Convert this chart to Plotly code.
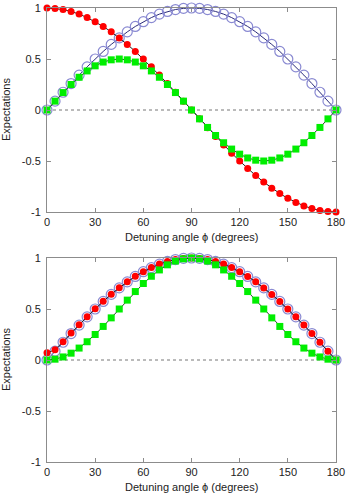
import plotly.graph_objects as go
from plotly.subplots import make_subplots

# Detuning angle (degrees)
angles = [0, 5, 10, 15, 20, 25, 30, 35, 40, 45, 50, 55, 60, 65, 70, 75, 80, 85, 90,
          95, 100, 105, 110, 115, 120, 125, 130, 135, 140, 145, 150, 155, 160, 165, 170, 175, 180]

# Top panel
top_red = [1.0, 0.996, 0.985, 0.966, 0.94, 0.906, 0.866, 0.819, 0.766, 0.707, 0.643, 0.574, 0.5,
           0.423, 0.342, 0.259, 0.174, 0.087, 0.0, -0.087, -0.174, -0.259, -0.342, -0.423, -0.5,
           -0.574, -0.643, -0.707, -0.766, -0.819, -0.866, -0.906, -0.94, -0.966, -0.985, -0.996, -1.0]
top_blue = [0.0, 0.087, 0.174, 0.259, 0.342, 0.423, 0.5, 0.574, 0.643, 0.707, 0.766, 0.819, 0.866,
            0.906, 0.94, 0.966, 0.985, 0.996, 1.0, 0.996, 0.985, 0.966, 0.94, 0.906, 0.866, 0.819,
            0.766, 0.707, 0.643, 0.574, 0.5, 0.423, 0.342, 0.259, 0.174, 0.087, 0.0]
top_green = [0.0, 0.087, 0.171, 0.25, 0.321, 0.383, 0.433, 0.47, 0.492, 0.5, 0.492, 0.47, 0.433,
             0.383, 0.321, 0.25, 0.171, 0.087, 0.0, -0.087, -0.171, -0.25, -0.321, -0.383, -0.433,
             -0.47, -0.492, -0.5, -0.492, -0.47, -0.433, -0.383, -0.321, -0.25, -0.171, -0.087, 0.0]

# Bottom panel
bot_red = [0.07, 0.1, 0.18, 0.265, 0.345, 0.425, 0.502, 0.575, 0.644, 0.708, 0.767, 0.82, 0.866,
           0.906, 0.94, 0.966, 0.985, 0.996, 1.0, 0.996, 0.985, 0.966, 0.94, 0.906, 0.866, 0.819,
           0.766, 0.707, 0.643, 0.574, 0.5, 0.423, 0.342, 0.259, 0.174, 0.087, 0.0]
bot_blue = [0.0, 0.087, 0.174, 0.259, 0.342, 0.423, 0.5, 0.574, 0.643, 0.707, 0.766, 0.819, 0.866,
            0.906, 0.94, 0.966, 0.985, 0.996, 1.0, 0.996, 0.985, 0.966, 0.94, 0.906, 0.866, 0.819,
            0.766, 0.707, 0.643, 0.574, 0.5, 0.423, 0.342, 0.259, 0.174, 0.087, 0.0]
bot_green = [0.0, 0.008, 0.03, 0.067, 0.117, 0.179, 0.25, 0.329, 0.413, 0.5, 0.587, 0.671, 0.75,
             0.821, 0.883, 0.933, 0.97, 0.992, 1.0, 0.992, 0.97, 0.933, 0.883, 0.821, 0.75, 0.671,
             0.587, 0.5, 0.413, 0.329, 0.25, 0.179, 0.117, 0.067, 0.03, 0.008, 0.0]

x_ticks = [0, 30, 60, 90, 120, 150, 180]
y_ticks = [-1, -0.5, 0, 0.5, 1]
y_ticktext = ["-1", "-0.5", "0", "0.5", "1"]
x_title = "Detuning angle \u03d5 (degrees)"
y_title = "Expectations"

W, H = 347, 494
ML, MR, MT, MB = 47, 11, 8, 32
ph = H - MT - MB
top_dom = [1 - 204 / ph, 1]
bot_dom = [0, 204 / ph]

fig = make_subplots(rows=2, cols=1)

BLUE = dict(mode="lines+markers", line=dict(color="#2a2a7a", width=1),
            marker=dict(symbol="circle-open", size=10, color="#8a8ad2", line=dict(width=1.2)))
RED = dict(mode="lines+markers", line=dict(color="#222222", width=1),
           marker=dict(symbol="circle", size=7, color="#ff0000"))
GREEN = dict(mode="lines+markers", line=dict(color="#333333", width=1),
             marker=dict(symbol="square", size=7, color="#00ee00"))

for row, (r, b, g) in enumerate([(top_red, top_blue, top_green), (bot_red, bot_blue, bot_green)], start=1):
    fig.add_trace(go.Scatter(x=angles, y=b, cliponaxis=False, showlegend=False, **BLUE), row=row, col=1)
    fig.add_trace(go.Scatter(x=angles, y=r, cliponaxis=False, showlegend=False, **RED), row=row, col=1)
    fig.add_trace(go.Scatter(x=angles, y=g, cliponaxis=False, showlegend=False, **GREEN), row=row, col=1)

axis_common = dict(showline=True, linecolor="#8c8c8c", linewidth=1, mirror="allticks",
                   ticks="inside", ticklen=4, tickcolor="#8c8c8c", showgrid=False, zeroline=False,
                   automargin=False,
                   tickfont=dict(family="Liberation Sans, Arial, sans-serif", size=11, color="#222"))

for i, dom in [(1, top_dom), (2, bot_dom)]:
    xa = "xaxis" if i == 1 else "xaxis2"
    ya = "yaxis" if i == 1 else "yaxis2"
    fig.update_layout(**{
        xa: dict(range=[0, 180], tickvals=x_ticks, domain=[0, 1], **axis_common),
        ya: dict(range=[-1, 1], tickvals=y_ticks, ticktext=y_ticktext, domain=dom,
                 ticklabelstandoff=3, **axis_common),
    })
    xr = "x" if i == 1 else "x2"
    yr = "y" if i == 1 else "y2"
    fig.add_shape(type="line", xref=xr, yref=yr, x0=0, x1=180, y0=0, y1=0,
                  line=dict(color="#777777", width=1, dash="dot"), layer="below")

annots = []
font = dict(family="Liberation Sans, Arial, sans-serif", size=11, color="#222")
for dom, ypix_title in [(top_dom, 237), (bot_dom, 487)]:
    annots.append(dict(text=x_title, xref="paper", yref="paper", x=0.5,
                       y=1 - (ypix_title - MT) / ph, xanchor="center", yanchor="middle",
                       showarrow=False, font=font))
    annots.append(dict(text=y_title, xref="paper", yref="paper", x=(6 - ML) / (W - ML - MR),
                       y=(dom[0] + dom[1]) / 2, xanchor="center", yanchor="middle",
                       textangle=-90, showarrow=False, font=font))

fig.update_layout(width=W, height=H, margin=dict(l=ML, r=MR, t=MT, b=MB, autoexpand=False),
                  paper_bgcolor="white", plot_bgcolor="white", annotations=annots,
                  showlegend=False)

fig.write_html("out.html", config={"displayModeBar": False},
               post_script="document.body.style.margin='0';document.body.style.overflow='hidden';")
